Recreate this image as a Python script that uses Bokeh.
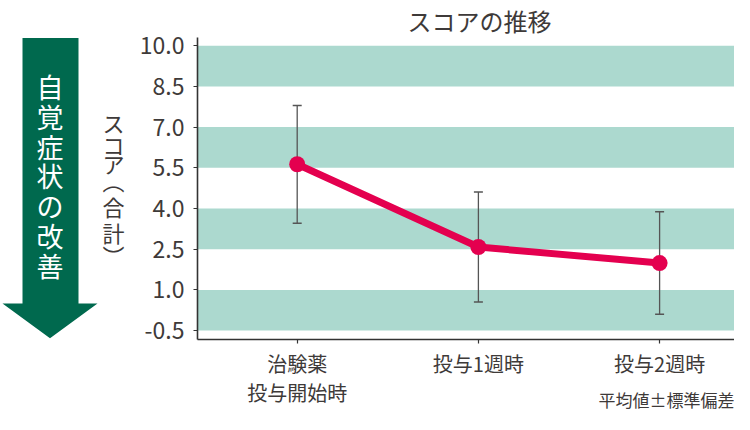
from bokeh.plotting import figure
from bokeh.models import Range1d, FixedTicker, BoxAnnotation, Title, NumeralTickFormatter
from bokeh.layouts import row
from bokeh.embed import file_html
from bokeh.resources import INLINE
from bokeh.core.properties import value

# ---------------- data ----------------
categories = ["治験薬\n投与開始時", "投与1週時", "投与2週時"]
x_pos = [0, 1, 2]
means = [5.63, 2.58, 1.99]
sds = [2.17, 2.03, 1.89]
y_ticks = [-0.5, 1.0, 2.5, 4.0, 5.5, 7.0, 8.5, 10.0]
band_bottoms = [-0.5, 2.5, 5.5, 8.5]
band_height = 1.5
title_text = "スコアの推移"
y_label_chars = ["ス", "コ", "ア", "︵", "合", "計", "︶"]
arrow_text = "自覚症状の改善"
note_text = "平均値±標準偏差"

FONT = "Noto Sans CJK JP"
TXT = "#3e3a39"
BAND = "#acd9cf"
LINE = "#e4004f"
GREEN = "#00694e"

upper = [m + s for m, s in zip(means, sds)]
lower = [m - s for m, s in zip(means, sds)]

# layout geometry (pixels)
W, H = 734, 414
FRAME_L, FRAME_T, FRAME_B = 197, 35, 339.3
LW = 130
X0_PX, X_PX_PER_UNIT = 296.7, 181.2
Y_TOP, Y_BOT = 10.302, -0.828
PX_PER_UNIT = (FRAME_B - FRAME_T) / (Y_TOP - Y_BOT)


def py(v):
    """pixel row -> data y (shared with the main plot)"""
    return Y_TOP - (v - FRAME_T) / PX_PER_UNIT


def px(v):
    """pixel column -> data x of the main plot"""
    return (v - X0_PX) / X_PX_PER_UNIT


# ---------------- main chart ----------------
p = figure(width=W - LW, height=H, x_range=Range1d(px(FRAME_L), px(W)),
           y_range=Range1d(Y_BOT, Y_TOP),
           output_backend="svg", toolbar_location=None, title=None,
           min_border_left=FRAME_L - LW, min_border_right=0, min_border_top=FRAME_T,
           min_border_bottom=int(H - FRAME_B))
p.outline_line_color = None
p.grid.visible = False

for b in band_bottoms:
    p.add_layout(BoxAnnotation(bottom=b, top=b + band_height, fill_color=BAND,
                               fill_alpha=1.0, line_color=None, level="underlay"))

p.segment(x0=x_pos, y0=lower, x1=x_pos, y1=upper, line_color="#555555", line_width=1.3)
p.scatter(x=x_pos + x_pos, y=upper + lower, marker="dash", size=9,
          line_color="#555555", line_width=1.5)
p.line(x=x_pos, y=means, line_color=LINE, line_width=7)
p.scatter(x=x_pos, y=means, size=16, fill_color=LINE, line_color=None)

p.yaxis.ticker = FixedTicker(ticks=y_ticks)
p.yaxis.formatter = NumeralTickFormatter(format="0.0")
p.xaxis.ticker = FixedTicker(ticks=x_pos)
p.xaxis.major_label_overrides = {x: c for x, c in zip(x_pos, categories)}
for ax in (p.xaxis, p.yaxis):
    ax.axis_line_color = "#333333"
    ax.axis_line_width = 1.6
    ax.major_tick_line_color = "#333333"
    ax.major_tick_line_width = 1.2
    ax.major_tick_in = 0
    ax.major_tick_out = 4
    ax.minor_tick_line_color = None
    ax.major_label_text_font = FONT
    ax.major_label_text_color = TXT
p.yaxis.major_label_text_font_size = "23px"
p.yaxis.major_label_standoff = 9
p.xaxis.major_label_text_font_size = "20px"
p.xaxis.major_label_standoff = 5
p.xaxis.major_label_text_line_height = 1.0

p.add_layout(Title(text=title_text, align="left", offset=210, standoff=0,
                   text_font=FONT, text_font_size="24px", text_font_style="normal",
                   text_color=TXT), "above")

# footnote: x-axis label at the right end (label is centred on the end point,
# so it is padded on the right with ideographic spaces to sit inside the canvas)
xax = p.xaxis[0]
pad = "\u3000" * 8
if "axis_label_align" in xax.properties():
    xax.axis_label = note_text + pad
    xax.axis_label_align = "end"
    xax.axis_label_standoff = -23
    xax.axis_label_text_font = FONT
    xax.axis_label_text_font_size = "17px"
    xax.axis_label_text_font_style = "normal"
    xax.axis_label_text_color = TXT
else:
    p.add_layout(Title(text=note_text, align="right", standoff=0,
                       text_font=FONT, text_font_size="17px", text_font_style="normal",
                       text_color=TXT), "below")

# ---------------- left panel (arrow + vertical y label) ----------------
left = figure(width=LW, height=H, x_range=Range1d(0, LW), y_range=p.y_range,
              output_backend="svg", toolbar_location=None, title=None,
              x_axis_location=None, y_axis_location=None,
              min_border=0, min_border_left=0, min_border_right=0)
left.outline_line_color = None
left.grid.visible = False

shaft_l, shaft_r, top_y, neck_y = 22, 78, 35.5, 303
head_l, head_r, tip_y = 2, 97, 338
cx = (head_l + head_r) / 2
left.patch(x=[shaft_l, shaft_r, shaft_r, head_r, cx, head_l, shaft_l],
           y=[py(v) for v in [top_y, top_y, neck_y, neck_y, tip_y, neck_y, neck_y]],
           fill_color=GREEN, line_color=None)

a_chars = list(arrow_text)
a_pitch, a_start = 30, 84.5
left.text(x=[cx] * len(a_chars), y=[py(a_start + a_pitch * i) for i in range(len(a_chars))],
          text=a_chars, text_align="center", text_baseline="middle",
          text_font=value(FONT), text_font_size="27px", text_color="white")

yl_rows = [120.5, 142, 161.5, 179, 205, 231, 254]
left.text(x=[113] * len(y_label_chars), y=[py(v) for v in yl_rows], text=y_label_chars,
          text_align="center", text_baseline="middle",
          text_font=value(FONT), text_font_size="22px", text_color=TXT)

layout = row(left, p)
open("out.html", "w").write(file_html(layout, INLINE))
